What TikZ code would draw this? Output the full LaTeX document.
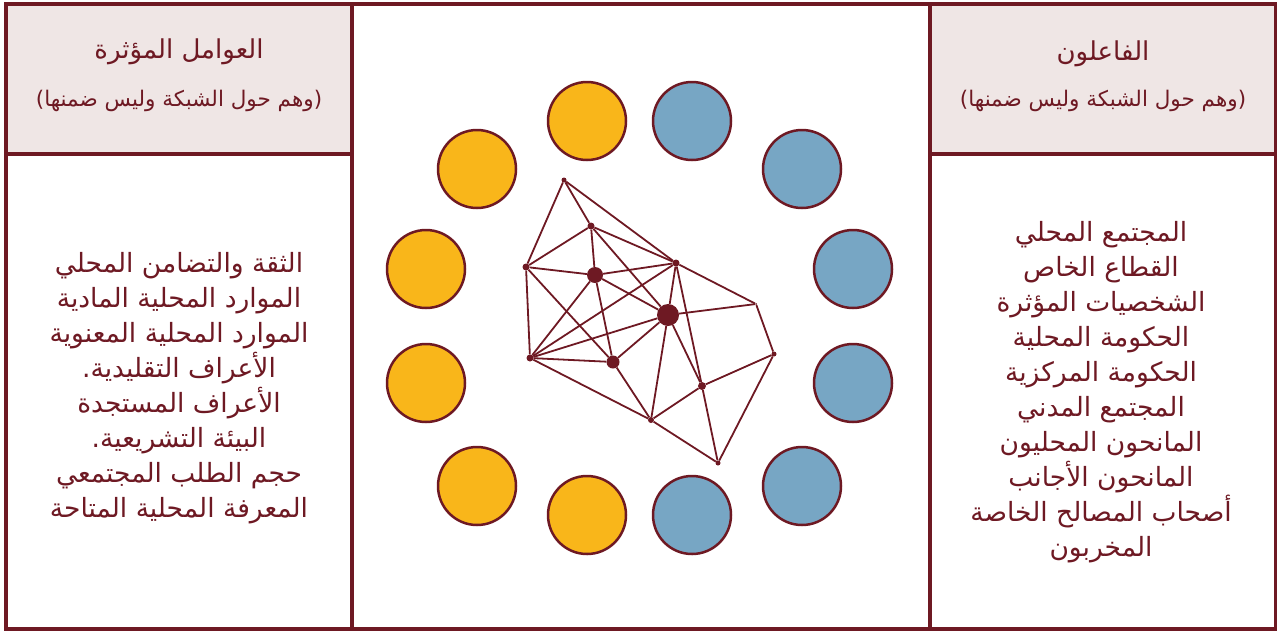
\documentclass[tikz,border=0pt]{standalone}
\usepackage{fontspec}
\newfontfamily\arabicfont[Script=Arabic]{DejaVu Sans}
\TeXXeTstate=1
\usepackage{xcolor}
\usetikzlibrary{positioning}
\definecolor{maroon}{RGB}{110,25,35}
\definecolor{headfill}{RGB}{239,230,229}
\definecolor{ballyellow}{RGB}{249,182,26}
\definecolor{ballblue}{RGB}{119,166,196}
\newcommand{\ar}[1]{\beginR #1\endR}
\tikzset{
	ball/.style={circle, draw=maroon, line width=2.5pt, minimum size=78pt, inner sep=0pt},
	yball/.style={ball, fill=ballyellow},
	bball/.style={ball, fill=ballblue},
	netdot/.style={circle, fill=maroon, inner sep=0pt, minimum size=#1},
	link/.style={draw=maroon, line width=1.8pt},
	frame/.style={draw=maroon, line width=3.5pt},
	headtitle/.style={text=maroon, font=\arabicfont\fontsize{26}{30}\selectfont},
	headsub/.style={text=maroon, font=\arabicfont\fontsize{21.5}{25}\selectfont},
	listtext/.style={text=maroon, align=center, font=\arabicfont\fontsize{26.5}{35}\selectfont}
}

\begin{document}
\begin{tikzpicture}[x=1pt, y=-1pt]
	\useasboundingbox (0,0) rectangle (1277,630);
	
	% Header panels
	\fill[headfill] (6,4) rectangle (352,154);
	\fill[headfill] (930,4) rectangle (1276,154);
	\draw[frame] (6,4) rectangle (1276,629);
	\draw[frame] (352,4) -- (352,629);
	\draw[frame] (930,4) -- (930,629);
	\draw[frame] (6,154) -- (352,154);
	\draw[frame] (930,154) -- (1276,154);
	
	% Left column: factors
	\node[headtitle] (factors) at (179,52) {\ar{العوامل المؤثرة}};
	\node[headsub] (factors-sub) at (179,101) {\ar{(وهم حول الشبكة وليس ضمنها)}};
	\node[listtext] (factors-list) at (179,388) {%
		\ar{الثقة والتضامن المحلي}\\
		\ar{الموارد المحلية المادية}\\
		\ar{الموارد المحلية المعنوية}\\
		\ar{الأعراف التقليدية.}\\
		\ar{الأعراف المستجدة}\\
		\ar{البيئة التشريعية.}\\
		\ar{حجم الطلب المجتمعي}\\
		\ar{المعرفة المحلية المتاحة}};
	
	% Right column: actors
	\node[headtitle] (actors) at (1103,54) {\ar{الفاعلون}};
	\node[headsub] (actors-sub) at (1103,101) {\ar{(وهم حول الشبكة وليس ضمنها)}};
	\node[listtext] (actors-list) at (1101,392) {%
		\ar{المجتمع المحلي}\\
		\ar{القطاع الخاص}\\
		\ar{الشخصيات المؤثرة}\\
		\ar{الحكومة المحلية}\\
		\ar{الحكومة المركزية}\\
		\ar{المجتمع المدني}\\
		\ar{المانحون المحليون}\\
		\ar{المانحون الأجانب}\\
		\ar{أصحاب المصالح الخاصة}\\
		\ar{المخربون}};
	
	% Ring of circles
	\foreach \i/\x/\y in {1/587/121, 2/477/169, 3/426/269, 4/426/383, 5/477/486, 6/587/515}
	\node[yball] (Y-\i) at (\x,\y) {};
	\foreach \i/\x/\y in {1/692/121, 2/802/169, 3/853/269, 4/853/383, 5/802/486, 6/692/515}
	\node[bball] (B-\i) at (\x,\y) {};
	
	% Network
	\node[netdot=5pt] (n-a) at (564,180) {};
	\node[netdot=7pt] (n-b) at (591,226) {};
	\node[netdot=7pt] (n-c) at (526,267) {};
	\node[netdot=16pt] (n-d) at (595,275) {};
	\node[netdot=7pt] (n-e) at (676,263) {};
	\node[netdot=22pt] (n-f) at (668,315) {};
	\node[netdot=2pt] (n-g) at (756,304) {};
	\node[netdot=5pt] (n-h) at (774,354) {};
	\node[netdot=7pt] (n-i) at (530,358) {};
	\node[netdot=13pt] (n-j) at (613,362) {};
	\node[netdot=8pt] (n-k) at (702,386) {};
	\node[netdot=6pt] (n-l) at (651,420) {};
	\node[netdot=5pt] (n-m) at (718,463) {};
	
	\foreach \u/\v in {a/b, a/c, a/e, b/c, b/d, b/e, b/f, c/d, c/i, c/j,
		d/e, d/f, d/i, d/j, e/f, e/g, e/i, e/k, f/g, f/i, f/j, f/k, f/l,
		g/h, h/k, h/m, i/j, i/l, j/l, k/l, k/m, l/m}
	\draw[link] (n-\u) -- (n-\v);
\end{tikzpicture}
\end{document}
